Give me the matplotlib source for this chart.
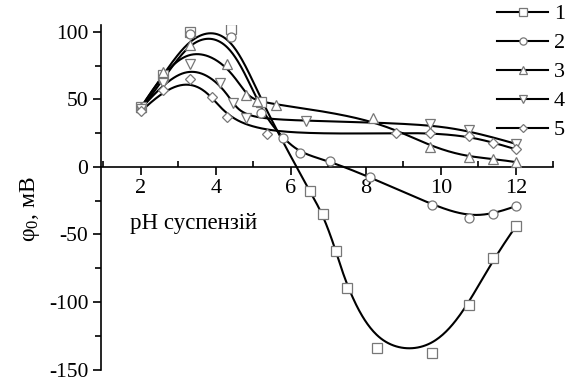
import numpy as np
import matplotlib
matplotlib.use("Agg")
import matplotlib.pyplot as plt
from matplotlib.ticker import MultipleLocator

plt.rcParams['font.family'] = ['Liberation Serif', 'DejaVu Serif']
plt.rcParams['mathtext.fontset'] = 'custom'
plt.rcParams['mathtext.rm'] = 'Liberation Serif'
plt.rcParams['mathtext.it'] = 'Liberation Serif'
plt.rcParams['axes.unicode_minus'] = False

# measured points for each suspension, pH vs potential (mV)
ph_1 = [2.0, 2.6, 3.3, 4.4, 5.2, 6.5, 6.85, 7.2, 7.5, 8.3, 9.75, 10.75, 11.4, 12.0]
phi_1 = [44, 68, 100, 102, 48, -18, -35, -62, -90, -134, -137.5, -102.5, -67.5, -44]

ph_2 = [2.0, 2.6, 3.3, 4.4, 5.2, 5.8, 6.25, 7.05, 8.1, 9.75, 10.75, 11.4, 12.0]
phi_2 = [43, 64, 98, 96, 40, 21, 10, 4, -7.5, -28, -37.5, -35, -29]

ph_3 = [2.0, 2.6, 3.3, 4.3, 4.8, 5.1, 5.6, 8.2, 9.7, 10.75, 11.4, 12.0]
phi_3 = [44, 70, 90, 76, 53, 49, 46, 36, 15, 7, 6, 3.5]

ph_4 = [2.0, 2.6, 3.3, 4.1, 4.45, 4.8, 6.4, 9.7, 10.75, 12.0]
phi_4 = [43, 62, 76, 62, 47, 36, 34, 32, 27, 17]

ph_5 = [2.0, 2.6, 3.3, 3.9, 4.3, 5.35, 8.8, 9.7, 10.75, 11.4, 12.0]
phi_5 = [41, 57, 65, 52, 37, 24, 25, 25, 22.7, 18, 13]

series = [(ph_1, phi_1, 's', '1'),
          (ph_2, phi_2, 'o', '2'),
          (ph_3, phi_3, '^', '3'),
          (ph_4, phi_4, 'v', '4'),
          (ph_5, phi_5, 'D', '5')]


def bspline(xs, ys, n=400, k=3):
    # clamped cubic B-spline with the points as control points
    P = np.column_stack([xs, ys]).astype(float)
    m = len(P)
    k = min(k, m - 1)
    knots = np.concatenate([np.zeros(k), np.linspace(0, 1, m - k + 1), np.ones(k)])
    t = np.linspace(0, 1, n)
    t[-1] -= 1e-9
    N = np.array([(knots[i] <= t) & (t < knots[i + 1])
                  for i in range(len(knots) - 1)], float)
    for d in range(1, k + 1):
        Nn = np.zeros((len(knots) - 1 - d, n))
        for i in range(len(knots) - 1 - d):
            a = knots[i + d] - knots[i]
            b = knots[i + d + 1] - knots[i + 1]
            left = (t - knots[i]) / a * N[i] if a > 0 else 0
            right = (knots[i + d + 1] - t) / b * N[i + 1] if b > 0 else 0
            Nn[i] = left + right
        N = Nn
    return N.T @ P


fig = plt.figure(figsize=(5.66, 3.8), dpi=100)
ax = fig.add_axes([0.1784, 0.0276, 0.7995, 0.9066])

for x, y, mk, lab in series:
    curve = bspline(x, y)
    ax.plot(curve[:, 0], curve[:, 1], color='black', lw=1.5, zorder=2)
    msize = 6.5 if mk != 'D' else 5.5
    ax.plot(x, y, ls='none', marker=mk, ms=msize, mfc='white', mec='#777777',
            mew=0.9, zorder=3)
    ax.plot([], [], color='black', lw=1.5, marker=mk, ms=msize * 0.8,
            mfc='white', mec='#777777', mew=0.9, label=lab)

ax.set_xlim(0.933, 13.0)
ax.set_ylim(-150, 105)
ax.spines['top'].set_visible(False)
ax.spines['right'].set_visible(False)
ax.spines['bottom'].set_position(('data', 0))
ax.spines['left'].set_linewidth(1.2)
ax.spines['bottom'].set_linewidth(1.2)

ax.set_xticks([2, 4, 6, 8, 10, 12])
ax.xaxis.set_minor_locator(MultipleLocator(1))
ax.set_yticks([-150, -100, -50, 0, 50, 100])
ax.yaxis.set_minor_locator(MultipleLocator(25))
ax.tick_params(axis='x', which='major', direction='out', length=6, width=1.2,
               labelsize=16, pad=3)
ax.tick_params(axis='x', which='minor', direction='in', length=4, width=1.2)
ax.tick_params(axis='y', which='major', direction='out', length=6, width=1.2,
               labelsize=15.5, pad=3)
ax.tick_params(axis='y', which='minor', direction='out', length=4, width=1.2)

ax.text(1.7, -42, 'pH суспензій', fontsize=16.5, ha='left', va='center')
fig.text(0.053, 0.45, 'φ$_0$, мВ', fontsize=17, rotation=90,
         ha='center', va='center')

ax.legend(loc='upper left', bbox_to_anchor=(0.878, 0.99),
          bbox_transform=fig.transFigure, frameon=False, fontsize=16,
          handlelength=2.3, handletextpad=0.25, labelspacing=0.38,
          borderaxespad=0, borderpad=0, numpoints=1)

fig.savefig('out.png', dpi=100)
